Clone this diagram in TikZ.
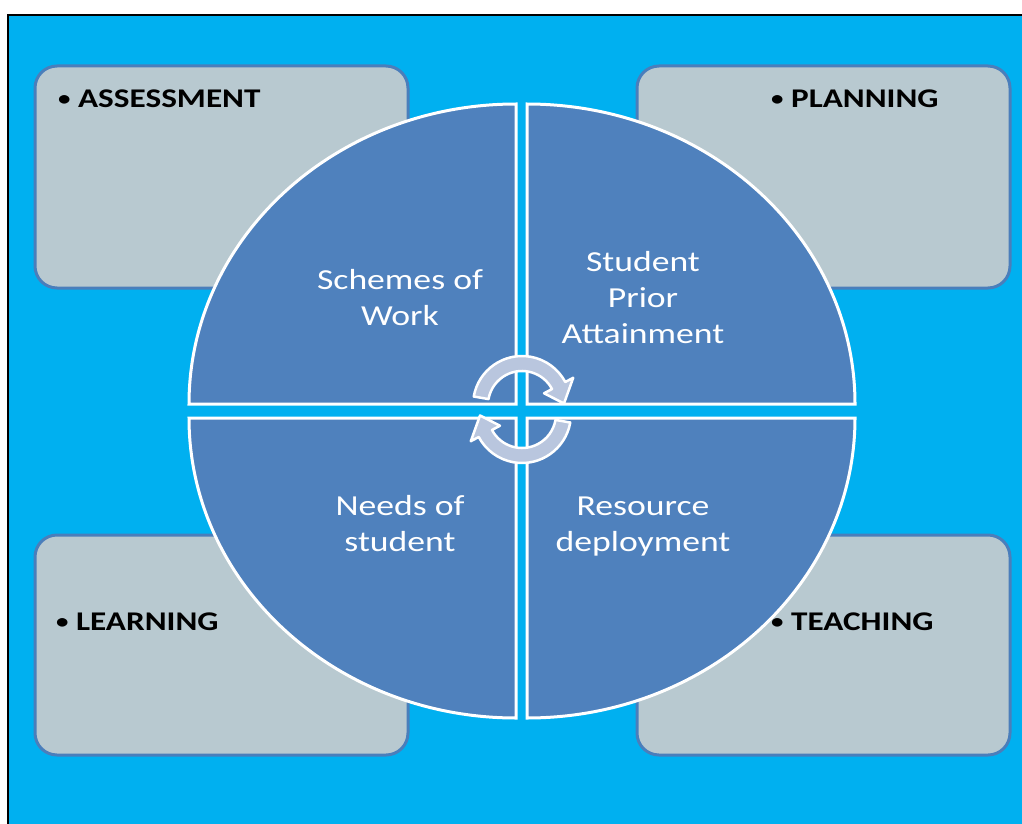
\documentclass[tikz,border=0pt]{standalone}
\usepackage{graphicx}
\usepackage{fontspec}
\setmainfont[FakeStretch=1.23]{Carlito}
\newcommand{\smallbullet}{\raisebox{2pt}{\scalebox{0.75}{•}}}
\begin{document}
\begin{tikzpicture}[x=1pt,y=-1pt,
  panel/.style={fill=boxfill, draw=boxline, line width=3pt, rounded corners=22pt},
  quarter/.style={fill=quadfill, draw=white, line width=3pt},
  cyclearrow/.style={fill=arrowfill, draw=white, line width=2.5pt, line join=round},
  heading/.style={anchor=west, inner sep=0pt, font=\fontsize{27}{32}\selectfont\bfseries, text=black},
  label/.style={align=center, inner sep=0pt, text=white, font=\fontsize{29}{36}\selectfont}]
\definecolor{bgblue}{HTML}{00B0F0}
\definecolor{quadfill}{HTML}{4F81BD}
\definecolor{boxfill}{HTML}{B8C9D0}
\definecolor{boxline}{HTML}{4A7EBB}
\definecolor{arrowfill}{HTML}{B9C6DE}
\useasboundingbox (0,0) rectangle (1022,824);
\fill[white] (0,0) rectangle (1022,824);
% background panel with its frame on the left and top
\fill[bgblue] (8,15) rectangle (1022,824);
\draw[black, line width=2pt] (8,824) -- (8,15) -- (1022,15);

% four corner boxes
\draw[panel] (35,66) rectangle (408,288);
\draw[panel] (637,66) rectangle (1010,288);
\draw[panel] (35,535) rectangle (408,755);
\draw[panel] (637,535) rectangle (1010,755);

\node[heading] (assess) at (58,99) {\smallbullet{} ASSESSMENT};
\node[heading] (plan) at (771,99) {\smallbullet{} PLANNING};
\node[heading] (learn) at (56,622) {\smallbullet{} LEARNING};
\node[heading] (teach) at (771,622) {\smallbullet{} TEACHING};

% the split disc
\draw[quarter] (516,404) -- ++(-327,0) arc[start angle=180, end angle=270, x radius=327, y radius=300] -- cycle;
\draw[quarter] (527,404) -- ++(0,-300) arc[start angle=270, end angle=360, x radius=328, y radius=300] -- cycle;
\draw[quarter] (527,418) -- ++(328,0) arc[start angle=0, end angle=90, x radius=328, y radius=300] -- cycle;
\draw[quarter] (516,418) -- ++(0,300) arc[start angle=90, end angle=180, x radius=327, y radius=300] -- cycle;

\node[label] (sow) at (400,298) {Schemes of\\Work};
\node[label] (spa) at (643,298) {Student\\Prior\\Attainment};
\node[label] (nos) at (400,524) {Needs of\\student};
\node[label] (rd) at (643,527) {Resource\\deployment};

% circular arrows in the middle
\begin{scope}[shift={(522,405)}, yscale=-1]
  \draw[cyclearrow] (170:49) arc[start angle=170, end angle=28, radius=49]
    -- (28:58) -- (2:42) -- (28:25) -- (28:34)
    arc[start angle=28, end angle=170, radius=34] -- cycle;
\end{scope}
\begin{scope}[shift={(522,414)}, yscale=-1, rotate=180]
  \draw[cyclearrow] (170:49) arc[start angle=170, end angle=28, radius=49]
    -- (28:58) -- (2:42) -- (28:25) -- (28:34)
    arc[start angle=28, end angle=170, radius=34] -- cycle;
\end{scope}
\end{tikzpicture}
\end{document}
